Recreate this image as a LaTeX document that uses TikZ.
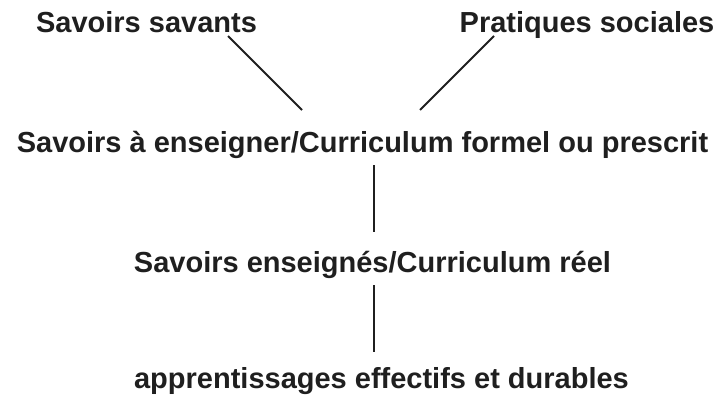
\documentclass[tikz,border=0pt]{standalone}
\usepackage{fontspec}
\setmainfont{Liberation Sans}
\begin{document}
\begin{tikzpicture}[x=1pt,y=-1pt,
  label/.style={anchor=base,inner sep=0pt,font=\fontsize{29}{34}\selectfont\bfseries,text=black!88},
  link/.style={line width=2pt,draw=black!88}]
\useasboundingbox (0,0) rectangle (717,399);
% text rows
\node[label] (ss)  at (146.5,32)  {Savoirs savants};
\node[label] (ps)  at (587,32)    {Pratiques sociales};
\node[label] (se)  at (362.5,152) {Savoirs à enseigner/Curriculum formel ou prescrit};
\node[label] (sen) at (372.5,272) {Savoirs enseignés/Curriculum réel};
\node[label] (app) at (381.5,388) {apprentissages effectifs et durables};
% connector end points
\coordinate (ssA) at (228,36);
\coordinate (psA) at (494,36);
\coordinate (seL) at (302,110);
\coordinate (seR) at (420,110);
\coordinate (seB) at (374,165);
\coordinate (senT) at (374,232);
\coordinate (senB) at (374,285);
\coordinate (appT) at (374,352);
% connectors
\draw[link] (ssA) -- (seL);
\draw[link] (psA) -- (seR);
\draw[link] (seB) -- (senT);
\draw[link] (senB) -- (appT);
\end{tikzpicture}
\end{document}
